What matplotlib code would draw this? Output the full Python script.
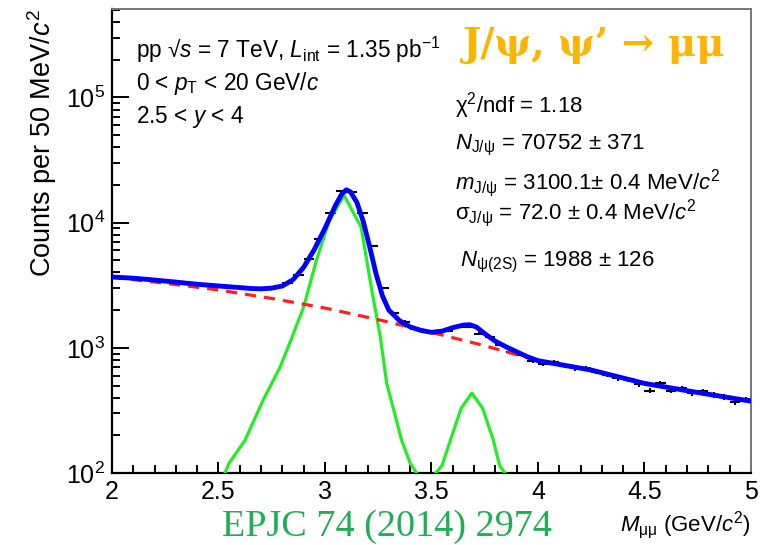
import numpy as np
import matplotlib
matplotlib.use("Agg")
import matplotlib.pyplot as plt
from matplotlib.ticker import LogLocator, MultipleLocator, NullFormatter

plt.rcParams['font.family'] = ['Liberation Sans', 'DejaVu Sans']
plt.rcParams['mathtext.fontset'] = 'custom'
plt.rcParams['mathtext.rm'] = 'Liberation Sans'
plt.rcParams['mathtext.it'] = 'Liberation Sans:italic'
plt.rcParams['mathtext.bf'] = 'Liberation Sans:bold'

# dimuon invariant mass histogram, 50 MeV bins from 2 to 5 GeV/c^2
bin_lo = 2.0
bin_w = 0.05
counts = [3620, 3600, 3560, 3500, 3450, 3400, 3250, 3300, 3150, 3150,
          3100, 3080, 3000, 2950, 2970, 3080, 3300, 3850, 5100, 7400,
          12000, 17900, 17500, 12000, 6500, 3000, 1900, 1620, 1420, 1340,
          1330, 1370, 1480, 1480, 1300, 1210, 1060, 930, 870, 780,
          740, 765, 715, 685, 685, 645, 605, 570, 560, 510,
          455, 525, 455, 475, 432, 450, 420, 405, 370, 387]

# total fit
fit_x = [2.00, 2.10, 2.20, 2.30, 2.40, 2.50, 2.60, 2.65, 2.70, 2.75,
         2.80, 2.85, 2.90, 2.95, 3.00, 3.05, 3.08, 3.10, 3.12, 3.15,
         3.18, 3.21, 3.24, 3.27, 3.30, 3.35, 3.40, 3.45, 3.50, 3.55,
         3.60, 3.65, 3.68, 3.71, 3.75, 3.775, 3.80, 3.85, 3.90, 3.95,
         4.00, 4.25, 4.50, 4.75, 5.00]
fit_y = [3680, 3600, 3480, 3350, 3220, 3120, 3030, 2980, 2960, 3000,
         3120, 3500, 4400, 6100, 9000, 13800, 17000, 18300, 17600, 14500,
         10200, 6400, 3900, 2600, 2000, 1650, 1470, 1380, 1330, 1360,
         1450, 1520, 1530, 1470, 1300, 1210, 1130, 1020, 930, 850,
         790, 665, 520, 440, 375]

# background
bkg_x = [2.00, 2.25, 2.50, 2.75, 3.00, 3.25, 3.50, 3.75, 4.00, 4.25, 4.50, 4.75, 5.00]
bkg_y = [3670, 3280, 2900, 2480, 2080, 1680, 1330, 1040, 790, 665, 520, 440, 375]

# J/psi signal
jpsi_x = [2.53, 2.55, 2.625, 2.71, 2.79, 2.84, 2.90, 2.96, 3.02, 3.09,
          3.17, 3.22, 3.26, 3.29, 3.36, 3.40, 3.43]
jpsi_y = [100, 120, 183, 383, 705, 1150, 2120, 5000, 10400, 16500,
          9200, 2880, 1220, 521, 183, 120, 100]

# psi(2S) signal
psi2s_x = [3.52, 3.55, 3.59, 3.64, 3.69, 3.74, 3.79, 3.82, 3.845]
psi2s_y = [100, 115, 185, 330, 435, 330, 185, 115, 100]

# fit results
chi2_ndf = 1.18
n_jpsi, n_jpsi_err = 70752, 371
m_jpsi, m_jpsi_err = 3100.1, 0.4
s_jpsi, s_jpsi_err = 72.0, 0.4
n_psi2s, n_psi2s_err = 1988, 126

fig = plt.figure(figsize=(7.67, 5.45), dpi=100)
ax = fig.add_axes([0.146, 0.132, 0.833, 0.851])

centers = bin_lo + bin_w * (np.arange(len(counts)) + 0.5)
counts = np.array(counts, dtype=float)
ax.errorbar(centers, counts, xerr=bin_w / 2, yerr=np.sqrt(counts),
            fmt='none', ecolor='black', elinewidth=1.5, capsize=0, zorder=2)

ax.plot(jpsi_x, jpsi_y, color='#22ee22', lw=2.3, zorder=3)
ax.plot(psi2s_x, psi2s_y, color='#22ee22', lw=2.3, zorder=3)
ax.plot(bkg_x, bkg_y, color='#ff2020', lw=2.3, ls=(0, (3.5, 2.5)), zorder=3)
ax.plot(fit_x, fit_y, color='#0000ff', lw=3.5, zorder=4)

ax.set_xlim(2, 5)
ax.set_yscale('log')
ax.set_ylim(100, 5.06e5)

ax.xaxis.set_minor_locator(MultipleLocator(0.1))
ax.yaxis.set_minor_locator(LogLocator(base=10, subs=np.arange(2, 10), numticks=10))
ax.yaxis.set_minor_formatter(NullFormatter())
ax.set_xticks([2, 2.5, 3, 3.5, 4, 4.5, 5])
ax.set_xticklabels(['2', '2.5', '3', '3.5', '4', '4.5', '5'])
ax.set_yticks([1e2, 1e3, 1e4, 1e5])
ax.set_yticklabels(['$10^2$', '$10^3$', '$10^4$', '$10^5$'])

ax.tick_params(which='both', direction='in', top=False, right=False,
               labelsize=18, width=1.4, color='black')
ax.tick_params(axis='y', which='major', length=12, pad=5)
ax.tick_params(axis='y', which='minor', length=6)
ax.tick_params(axis='x', which='major', length=8, pad=5)
ax.tick_params(axis='x', which='minor', length=6)

for s in ['left', 'bottom']:
    ax.spines[s].set_linewidth(1.6)
    ax.spines[s].set_color('black')
for s in ['top', 'right']:
    ax.spines[s].set_linewidth(1.4)
    ax.spines[s].set_color('#777777')

fig.text(0.055, 0.982, 'Counts per 50 MeV/$c^2$', rotation=90,
         ha='center', va='top', fontsize=19.5)
fig.text(0.979, 0.037, '$M_{\\rm \\mu\\mu}$ (GeV/$c^2$)', ha='right',
         va='center', fontsize=16)
fig.text(0.289, 0.033, 'EPJC 74 (2014) 2974', ha='left', va='center',
         fontsize=27.5, color='#1fae55', family='Liberation Serif')

# collision system and kinematic selection
ax.text(0.038, 0.912, 'pp √$s$ = 7 TeV, $L_{\\rm int}$ = 1.35 pb$^{-1}$',
        transform=ax.transAxes, fontsize=16.3, va='center')
ax.text(0.038, 0.841, '0 < $p_{\\rm T}$ < 20 GeV/$c$',
        transform=ax.transAxes, fontsize=16.3, va='center')
ax.text(0.038, 0.767, '2.5 < $y$ < 4',
        transform=ax.transAxes, fontsize=16.3, va='center')

fig.text(0.603, 0.917, 'J/ψ, ψ’ → μμ', color='#ffb400', fontsize=28,
         fontweight='bold', family='DejaVu Serif', va='center')

fig.text(0.593, 0.807, f'χ$^2$/ndf = {chi2_ndf:.2f}', fontsize=16, va='center')
fig.text(0.593, 0.734, f'$N_{{\\rm J/ψ}}$ = {n_jpsi} ± {n_jpsi_err}',
         fontsize=16, va='center')
fig.text(0.593, 0.664, f'$m_{{\\rm J/ψ}}$ = {m_jpsi:.1f}± {m_jpsi_err} MeV/$c^2$',
         fontsize=16, va='center')
fig.text(0.593, 0.609, f'σ$_{{\\rm J/ψ}}$ = {s_jpsi:.1f} ± {s_jpsi_err} MeV/$c^2$',
         fontsize=16, va='center')
fig.text(0.600, 0.519, f'$N_{{\\rm ψ(2S)}}$ = {n_psi2s} ± {n_psi2s_err}',
         fontsize=16, va='center')

fig.savefig('out.png', dpi=100)
